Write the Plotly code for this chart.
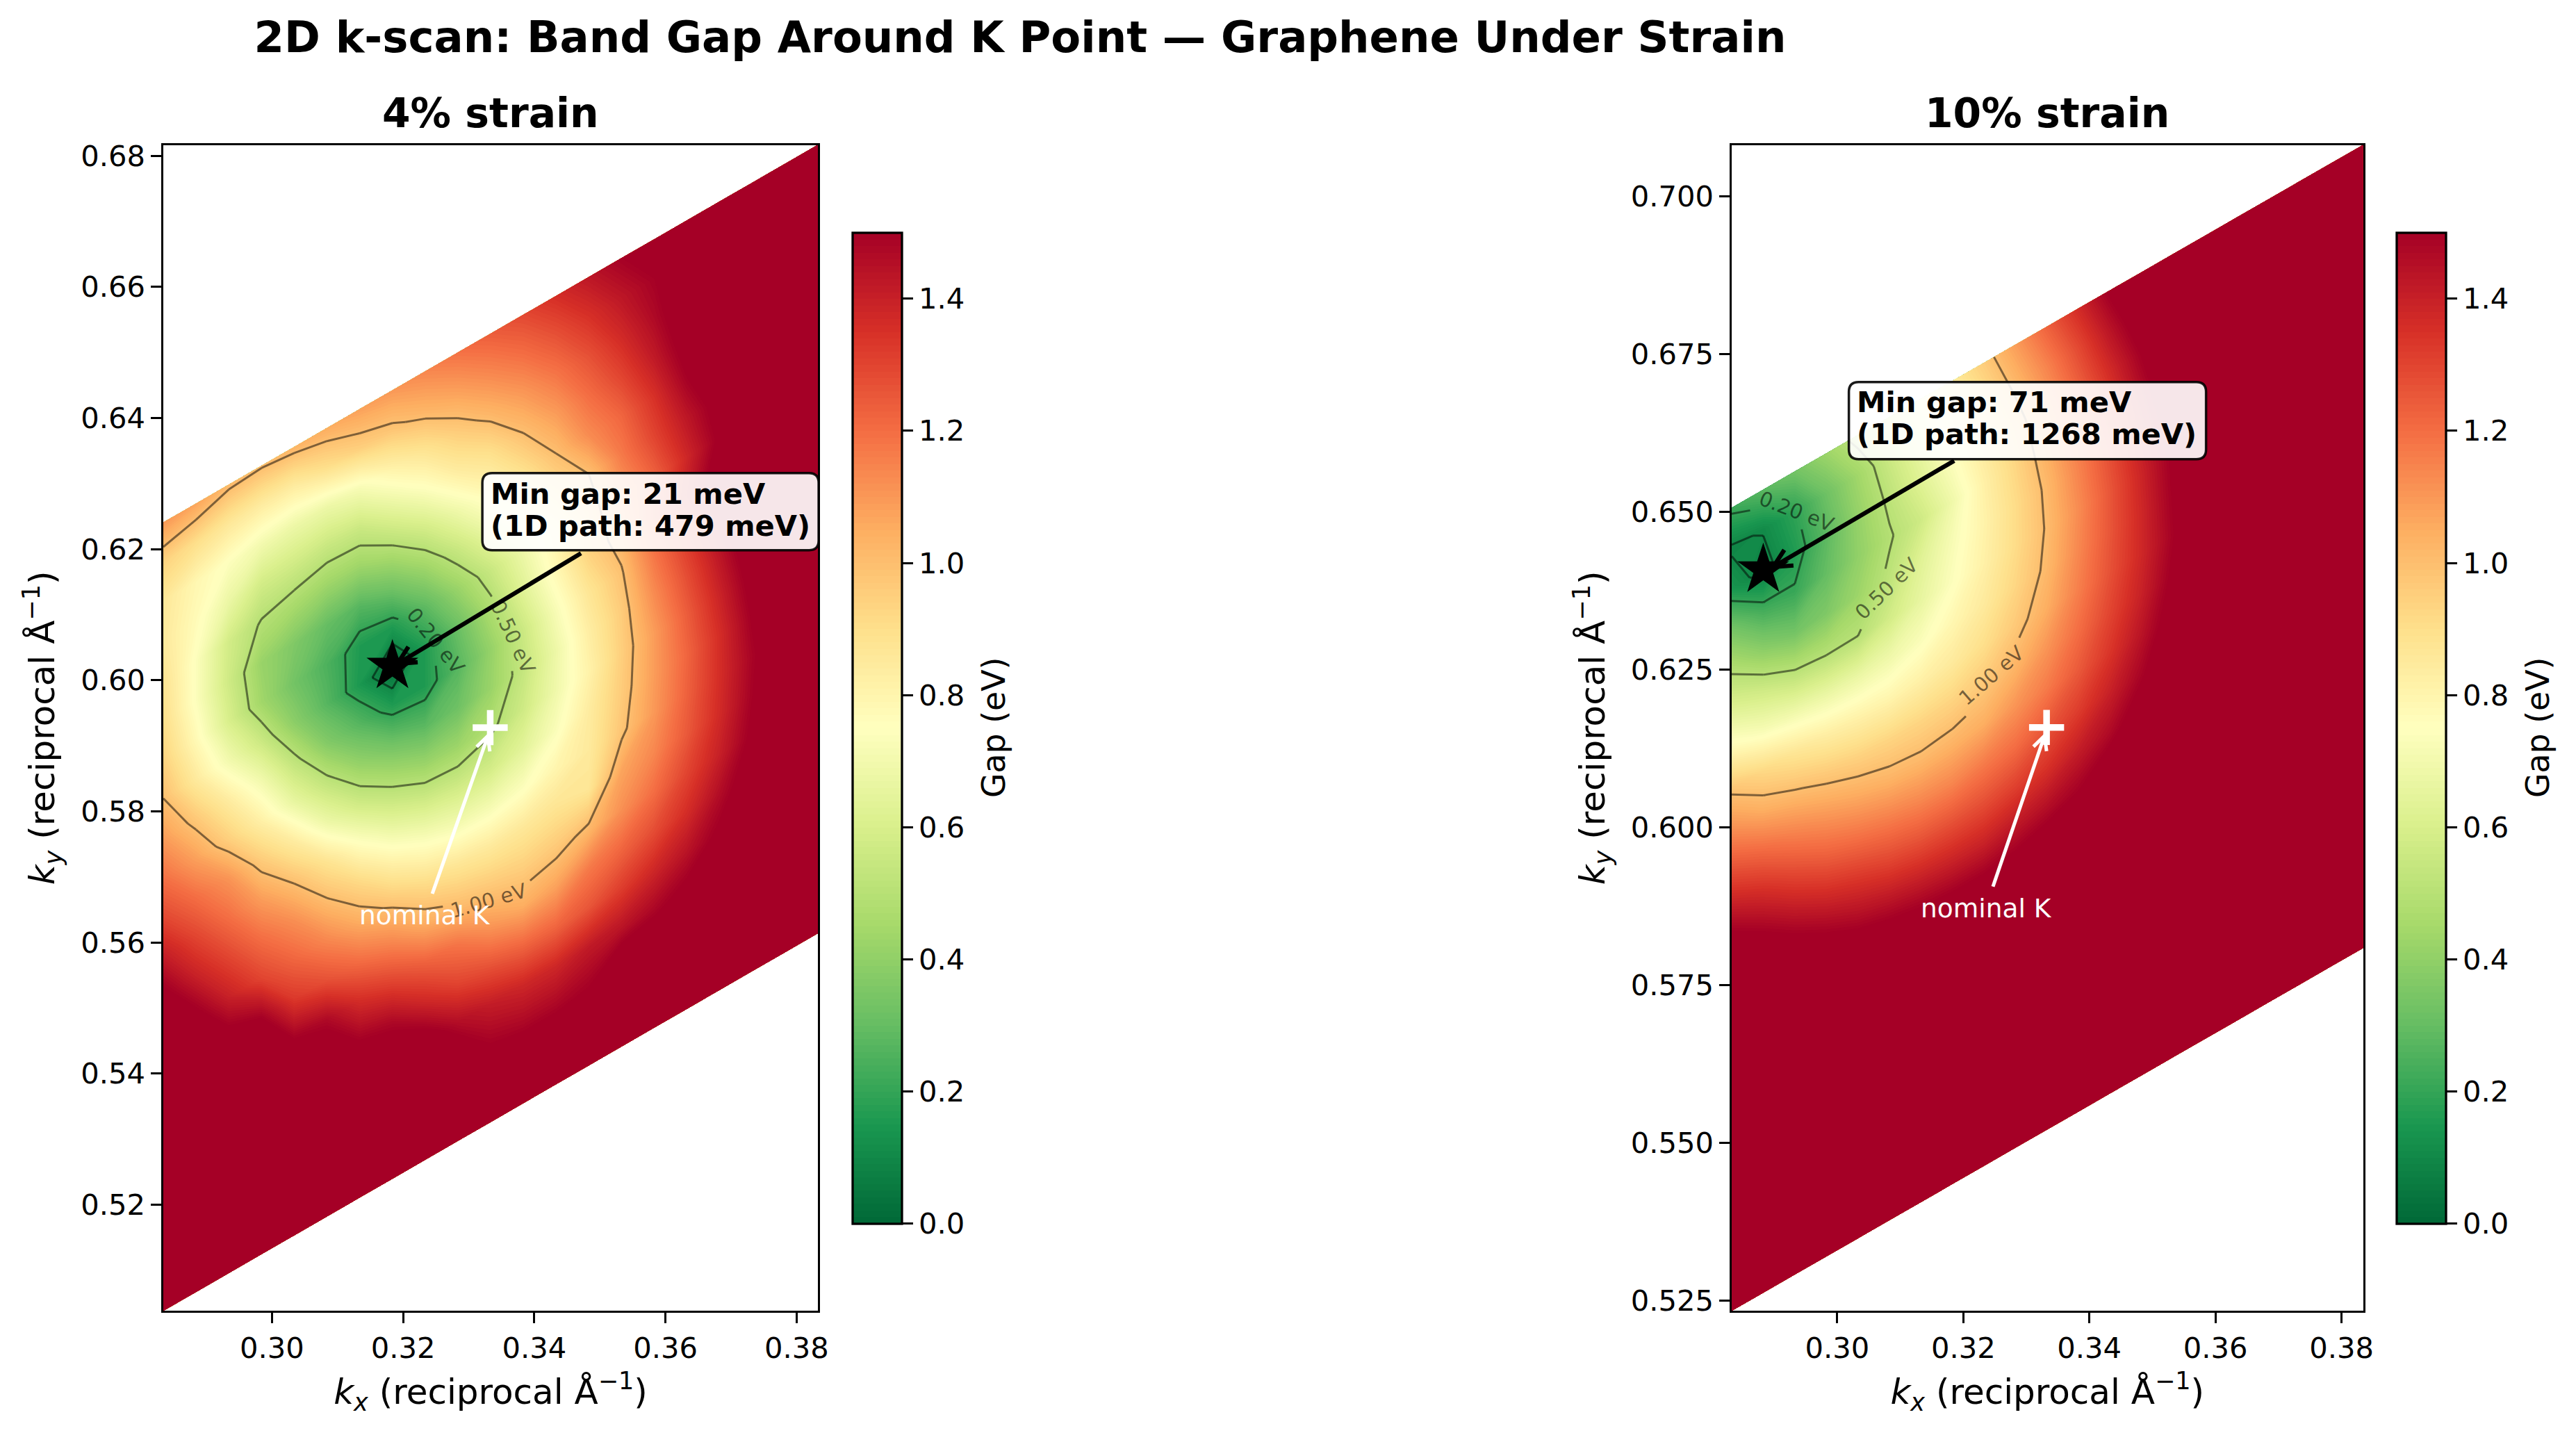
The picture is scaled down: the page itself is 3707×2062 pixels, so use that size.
import math
import numpy as np
import plotly.graph_objects as go

FONT = "DejaVu Sans"
WIDTH, HEIGHT = 3707, 2062

# Band gap (eV) on the 21 x 21 sheared k-mesh, one list per row of the mesh.
GAP_4 = [
    [1.6]*21,
    [1.6]*21,
    [1.6]*10 + [1.5,1.48,1.48,1.5] + [1.6]*7,
    [1.6]*8 + [1.56,1.46,1.41,1.38,1.38,1.42,1.44,1.48,1.53,1.6,1.6,1.6,1.6],
    [1.6,1.6,1.6,1.6,1.6,1.6,1.50,1.47,1.38,1.30,1.26,1.22,1.22,1.26,1.32,1.38,1.44,1.52,1.6,1.6,1.6],
    [1.6,1.6,1.6,1.56,1.50,1.47,1.36,1.30,1.23,1.18,1.10,1.05,1.08,1.17,1.22,1.28,1.36,1.46,1.56,1.6,1.6],
    [1.6,1.6,1.54,1.50,1.33,1.27,1.20,1.14,1.05,1.00,.97,.95,.97,1.02,1.12,1.20,1.30,1.40,1.52,1.6,1.6],
    [1.6,1.53,1.40,1.30,1.22,1.14,1.05,.98,.91,.87,.85,.86,.88,.87,1.07,1.14,1.25,1.37,1.50,1.6,1.6],
    [1.53,1.40,1.30,1.20,1.12,1.01,.92,.82,.75,.71,.71,.74,.80,.85,.98,1.10,1.23,1.36,1.49,1.6,1.6],
    [1.41,1.30,1.20,1.09,.99,.88,.75,.65,.59,.57,.58,.64,.73,.84,.96,1.09,1.22,1.36,1.51,1.6,1.6],
    [1.29,1.20,1.11,.96,.84,.68,.57,.49,.43,.43,.48,.57,.69,.81,.95,1.09,1.24,1.39,1.54,1.6,1.6],
    [1.19,1.08,.95,.82,.66,.53,.41,.33,.28,.32,.42,.54,.68,.83,.96,1.13,1.28,1.43,1.58,1.6,1.6],
    [1.09,.97,.84,.70,.53,.37,.27,.16,.16,.27,.41,.56,.72,.87,.99,1.18,1.33,1.49,1.6,1.6,1.6],
    [1.00,.85,.70,.56,.39,.27,.15,.021,.16,.31,.47,.63,.78,.94,1.04,1.25,1.41,1.57,1.6,1.6,1.6],
    [.94,.78,.60,.44,.33,.25,.16,.16,.28,.42,.55,.68,.81,.95,1.10,1.23,1.38,1.52,1.6,1.6,1.6],
    [.90,.74,.57,.42,.36,.30,.27,.33,.43,.55,.67,.79,.91,1.00,1.17,1.30,1.43,1.55,1.6,1.6,1.6],
    [.88,.74,.58,.49,.46,.43,.43,.49,.58,.69,.79,.89,1.00,1.13,1.22,1.35,1.50,1.6,1.6,1.6,1.6],
    [.85,.77,.67,.58,.57,.55,.56,.65,.74,.84,.90,1.00,1.09,1.20,1.30,1.42,1.55,1.6,1.6,1.6,1.6],
    [.86,.79,.74,.70,.68,.68,.72,.81,.88,.96,1.03,1.10,1.18,1.27,1.37,1.47,1.58,1.6,1.6,1.6,1.6],
    [.94,.90,.86,.84,.84,.90,.95,.98,1.03,1.08,1.14,1.20,1.27,1.35,1.43,1.50,1.56,1.6,1.6,1.6,1.6],
    [1.10,1.07,1.02,1.01,1.03,1.05,1.08,1.10,1.14,1.19,1.24,1.29,1.36,1.43,1.50,1.56,1.6,1.6,1.6,1.6,1.6],
]

GAP_10 = [
    [1.6]*21,
    [1.6]*21,
    [1.6]*21,
    [1.6]*21,
    [1.6]*21,
    [1.6]*21,
    [1.6]*21,
    [1.6,1.6,1.6,1.6,1.6,1.57,1.55,1.54,1.54,1.55,1.58] + [1.6]*10,
    [1.6,1.6,1.57,1.51,1.46,1.43,1.41,1.40,1.40,1.43,1.46,1.50,1.57] + [1.6]*8,
    [1.57,1.50,1.43,1.37,1.33,1.29,1.27,1.27,1.28,1.31,1.35,1.41,1.47,1.56] + [1.6]*7,
    [1.42,1.36,1.29,1.23,1.19,1.16,1.14,1.14,1.17,1.20,1.26,1.32,1.40,1.49] + [1.6]*7,
    [1.27,1.21,1.15,1.10,1.06,1.03,1.02,1.03,1.05,1.11,1.17,1.25,1.34,1.44,1.55] + [1.6]*6,
    [1.12,1.05,1.01,.97,.94,.93,.93,.94,.97,1.03,1.11,1.20,1.30,1.40,1.52] + [1.6]*6,
    [.98,.92,.87,.83,.81,.80,.82,.85,.90,.97,1.05,1.16,1.27,1.38,1.50] + [1.6]*6,
    [.78,.72,.69,.67,.67,.69,.73,.79,.85,.93,1.02,1.14,1.26,1.38,1.51] + [1.6]*6,
    [.62,.57,.51,.495,.50,.58,.66,.74,.82,.91,1.01,1.13,1.26,1.39,1.52] + [1.6]*6,
    [.48,.39,.33,.36,.43,.52,.63,.72,.81,.91,1.02,1.15,1.28,1.42,1.55] + [1.6]*6,
    [.33,.23,.21,.30,.40,.49,.57,.69,.82,.93,1.05,1.18,1.32,1.46] + [1.6]*7,
    [.138,.071,.16,.28,.41,.52,.63,.74,.85,.96,1.09,1.23,1.37,1.51] + [1.6]*7,
    [.09,.105,.19,.32,.44,.56,.67,.79,.90,1.02,1.15,1.29,1.44,1.58] + [1.6]*7,
    [.22,.28,.33,.43,.53,.62,.74,.85,.96,1.09,1.23,1.37,1.52,1.6] + [1.6]*7,
]

CMAP = ["#006837", "#1a9850", "#66bd63", "#a6d96a", "#d9ef8b", "#ffffbf",
        "#fee08b", "#fdae61", "#f46d43", "#d73027", "#a50026"]
COLORSCALE = [[i / 10, c] for i, c in enumerate(CMAP)]
LEVELS = [0.1, 0.2, 0.5, 1.0]
CBAR_TICKS = [0.0, 0.2, 0.4, 0.6, 0.8, 1.0, 1.2, 1.4]
CBAR_LABELS = ["0.0", "0.2", "0.4", "0.6", "0.8", "1.0", "1.2", "1.4"]
XTICKS = [0.30, 0.32, 0.34, 0.36, 0.38]
XLABELS = ["0.30", "0.32", "0.34", "0.36", "0.38"]

PANELS = [
    dict(
        title="4% strain", gap=GAP_4, meV=21, path_meV=479,
        px=(235, 1177), py=(208.5, 1886.3), cbar_x=1227, cbar_title_x=1430,
        xrange=(0.28344, 0.38324), yrange=(0.50378, 0.68166),
        mesh=dict(x0=0.28344, dx=0.00499, y0=0.50378, dy=0.006015, shear=0.00288),
        yticks=[0.52, 0.54, 0.56, 0.58, 0.60, 0.62, 0.64, 0.66, 0.68],
        ylabels=["0.52", "0.54", "0.56", "0.58", "0.60", "0.62", "0.64", "0.66", "0.68"],
        nominal=(0.33328, 0.59277),
        nominal_text=(0.32335, 0.56413),
        nominal_arrow=((0.32445, 0.56742), (0.33292, 0.59148)),
        min_arrow=((0.34712, 0.61936), (0.31915, 0.60250)),
        box=(0.35772, 0.62572, 484, 111),
        box_text=(0.33310, 0.62848, 0.62360),
        labels=[("0.20 eV", 0.32494, 0.60604, 51, 0.2), ("0.50 eV", 0.33677, 0.60657, 65, 0.5),
                ("1.00 eV", 0.33303, 0.56635, -16, 1.0)],
    ),
    dict(
        title="10% strain", gap=GAP_10, meV=71, path_meV=1268,
        px=(2492, 3400.5), py=(208.5, 1886.3), cbar_x=3449, cbar_title_x=3652,
        xrange=(0.28327, 0.3834), yrange=(0.52339, 0.70818),
        mesh=dict(x0=0.28327, dx=0.005007, y0=0.52339, dy=0.006365, shear=0.002875),
        yticks=[0.525, 0.55, 0.575, 0.60, 0.625, 0.65, 0.675, 0.70],
        ylabels=["0.525", "0.550", "0.575", "0.600", "0.625", "0.650", "0.675", "0.700"],
        nominal=(0.33321, 0.61586),
        nominal_text=(0.32363, 0.58716),
        nominal_arrow=((0.32471, 0.59064), (0.33288, 0.61454)),
        min_arrow=((0.31856, 0.65813), (0.28987, 0.64131)),
        box=(0.33018, 0.66447, 514, 111),
        box_text=(0.30290, 0.66738, 0.66231),
        labels=[("0.20 eV", 0.29354, 0.65006, 21, 0.2), ("0.50 eV", 0.30787, 0.63783, -44, 0.5),
                ("1.00 eV", 0.32451, 0.62404, -41, 1.0)],
    ),
]


def iso_path(gx, gy, z, level, gaps, sx, sy):
    """Marching squares over the mesh; pieces under a label box are dropped."""
    xs, ys = [], []
    ny, nx = z.shape
    for j in range(ny - 1):
        for i in range(nx - 1):
            c = [(j, i), (j, i + 1), (j + 1, i + 1), (j + 1, i)]
            pts = []
            for a, b in zip(c, c[1:] + c[:1]):
                za, zb = z[a], z[b]
                if (za < level) != (zb < level):
                    t = (level - za) / (zb - za)
                    pts.append((gx[a] + t * (gx[b] - gx[a]), gy[a] + t * (gy[b] - gy[a])))
            pairs = []
            if len(pts) == 2:
                pairs = [(pts[0], pts[1])]
            elif len(pts) == 4:
                centre = np.mean([z[p] for p in c])
                below = (z[c[0]] < level) == (centre < level)
                pairs = [(pts[0], pts[1]), (pts[2], pts[3])] if not below else [(pts[3], pts[0]), (pts[1], pts[2])]
            for p, q in pairs:
                run = False
                for k in range(24):
                    t0, t1 = k / 24, (k + 1) / 24
                    mx = p[0] + (t0 + t1) / 2 * (q[0] - p[0])
                    my = p[1] + (t0 + t1) / 2 * (q[1] - p[1])
                    hidden = False
                    for gapx, gapy, ang, half_len in gaps:
                        ex, ey = (mx - gapx) * sx, -(my - gapy) * sy
                        ca, sa = math.cos(math.radians(ang)), math.sin(math.radians(ang))
                        if abs(ex * ca + ey * sa) < half_len and abs(-ex * sa + ey * ca) < 22:
                            hidden = True
                    if hidden:
                        if run:
                            xs.append(None)
                            ys.append(None)
                        run = False
                        continue
                    if not run:
                        xs.append(p[0] + t0 * (q[0] - p[0]))
                        ys.append(p[1] + t0 * (q[1] - p[1]))
                    xs.append(p[0] + t1 * (q[0] - p[0]))
                    ys.append(p[1] + t1 * (q[1] - p[1]))
                    run = True
                xs.append(None)
                ys.append(None)
    return xs, ys


fig = go.Figure()
shapes, annotations = [], []


def arrow_shapes(start, tip, sx, sy, color, width, head_len, head_half, xref, yref):
    shapes.append(dict(type="line", xref=xref, yref=yref, x0=start[0], y0=start[1], x1=tip[0], y1=tip[1],
                       line=dict(color=color, width=width), layer="above"))
    ux, uy = (tip[0] - start[0]) * sx, (tip[1] - start[1]) * sy
    norm = math.hypot(ux, uy)
    ux, uy = ux / norm, uy / norm
    a = (-head_len * ux - head_half * uy, -head_len * uy + head_half * ux)
    b = (-head_len * ux + head_half * uy, -head_len * uy - head_half * ux)
    shapes.append(dict(type="path", xref=xref, yref=yref, xsizemode="pixel", ysizemode="pixel",
                       xanchor=tip[0], yanchor=tip[1],
                       path=f"M {a[0]:.1f},{a[1]:.1f} L 0,0 L {b[0]:.1f},{b[1]:.1f}",
                       line=dict(color=color, width=width), layer="above"))


layout_axes = {}
for n, p in enumerate(PANELS, start=1):
    xname, yname = ("x", "y") if n == 1 else (f"x{n}", f"y{n}")
    xkey, ykey = ("xaxis", "yaxis") if n == 1 else (f"xaxis{n}", f"yaxis{n}")
    sx = (p["px"][1] - p["px"][0]) / (p["xrange"][1] - p["xrange"][0])
    sy = (p["py"][1] - p["py"][0]) / (p["yrange"][1] - p["yrange"][0])

    z = np.array(p["gap"], dtype=float)
    m = p["mesh"]
    ii, jj = np.meshgrid(np.arange(21), np.arange(21))
    gx = m["x0"] + ii * m["dx"]
    gy = m["y0"] + ii * m["shear"] + jj * m["dy"]
    carpet_id = f"mesh{n}"

    fig.add_trace(go.Carpet(
        carpet=carpet_id, a=list(range(21)), b=list(range(21)),
        x=gx.tolist(), y=gy.tolist(), xaxis=xname, yaxis=yname,
        aaxis=dict(showgrid=False, showticklabels="none", showline=False, startline=False, endline=False,
                   smoothing=0, minorgridcount=0, type="linear", tickmode="array", tickvals=[]),
        baxis=dict(showgrid=False, showticklabels="none", showline=False, startline=False, endline=False,
                   smoothing=0, minorgridcount=0, type="linear", tickmode="array", tickvals=[]),
    ))
    fig.add_trace(go.Contourcarpet(
        carpet=carpet_id, a=list(range(21)), b=list(range(21)), z=z.tolist(),
        xaxis=xname, yaxis=yname,
        autocontour=False, contours=dict(start=0, end=1.5, size=0.01, coloring="fill", showlines=False),
        line=dict(width=0, smoothing=0), colorscale=COLORSCALE, zmin=0, zmax=1.5, zauto=False,
        colorbar=dict(
            x=p["cbar_x"] / WIDTH, xanchor="left", xpad=0, ypad=0,
            y=1 - 1760.7 / HEIGHT, yanchor="bottom", len=(1760.7 - 334.5) / HEIGHT, lenmode="fraction",
            thickness=71, thicknessmode="pixels", outlinewidth=3.3, outlinecolor="black",
            ticks="outside", ticklen=14.6, tickwidth=3.3, tickcolor="black",
            tickvals=CBAR_TICKS, ticktext=CBAR_LABELS, tickfont=dict(family=FONT, size=41.67, color="black"),
        ),
    ))
    annotations.append(dict(text="Gap (eV)", x=p["cbar_title_x"] / WIDTH, y=1 - 1047 / HEIGHT, xref="paper", yref="paper",
                            xanchor="center", yanchor="middle", showarrow=False, textangle=-90,
                            font=dict(family=FONT, size=45.8, color="black")))

    # Iso-gap lines, with openings where their labels sit.
    for level in LEVELS:
        gaps = [(lx, ly, ang, 66) for _, lx, ly, ang, lv in p["labels"] if lv == level]
        lx_, ly_ = iso_path(gx, gy, z, level, gaps, sx, sy)
        fig.add_trace(go.Scatter(x=lx_, y=ly_, mode="lines", xaxis=xname, yaxis=yname, showlegend=False,
                                 hoverinfo="skip", line=dict(color="rgba(0,0,0,0.5)", width=3)))
    for text, lx, ly, ang, _ in p["labels"]:
        annotations.append(dict(text=text, x=lx, y=ly, xref=xname, yref=yname, showarrow=False, textangle=ang,
                                font=dict(family=FONT, size=29.17, color="rgba(0,0,0,0.55)")))

    # Location of the smallest gap on the mesh.
    jmin, imin = np.unravel_index(np.argmin(z), z.shape)
    fig.add_trace(go.Scatter(x=[gx[jmin, imin]], y=[gy[jmin, imin]], mode="markers", xaxis=xname, yaxis=yname,
                             showlegend=False, marker=dict(symbol="star", size=56, color="black",
                                                           line=dict(width=0))))
    fig.add_trace(go.Scatter(x=[p["nominal"][0]], y=[p["nominal"][1]], mode="markers", xaxis=xname, yaxis=yname,
                             showlegend=False, marker=dict(symbol="cross-thin", size=36,
                                                           line=dict(color="white", width=9.5))))

    arrow_shapes(*p["nominal_arrow"], sx, sy, "white", 5, 20, 10, xname, yname)
    annotations.append(dict(text="nominal K", x=p["nominal_text"][0], y=p["nominal_text"][1], xref=xname, yref=yname,
                            showarrow=False, font=dict(family=FONT, size=37.5, color="white")))
    arrow_shapes(*p["min_arrow"], sx, sy, "black", 6.25, 26, 13, xname, yname)

    cx, cy, bw, bh = p["box"]
    w, h, r = bw / 2, bh / 2, 14
    path = (f"M {-w + r},{-h} L {w - r},{-h} Q {w},{-h} {w},{-h + r} L {w},{h - r} Q {w},{h} {w - r},{h} "
            f"L {-w + r},{h} Q {-w},{h} {-w},{h - r} L {-w},{-h + r} Q {-w},{-h} {-w + r},{-h} Z")
    shapes.append(dict(type="path", xref=xname, yref=yname, xsizemode="pixel", ysizemode="pixel", xanchor=cx, yanchor=cy,
                       path=path, fillcolor="rgba(255,255,255,0.9)", line=dict(color="rgba(0,0,0,0.9)", width=3.5),
                       layer="above"))
    tx, ty1, ty2 = p["box_text"]
    for line, ty in ((f"Min gap: {p['meV']} meV", ty1), (f"(1D path: {p['path_meV']} meV)", ty2)):
        annotations.append(dict(text=f"<b>{line}</b>", x=tx, y=ty, xref=xname, yref=yname, xanchor="left",
                                showarrow=False, font=dict(family=FONT, size=41.67, color="black")))

    annotations.append(dict(text=f"<b>{p['title']}</b>", x=(p["px"][0] + p["px"][1]) / 2 / WIDTH, y=1 - 163 / HEIGHT,
                            xref="paper", yref="paper", xanchor="center", yanchor="middle", showarrow=False,
                            font=dict(family=FONT, size=58.33, color="black")))

    common = dict(showgrid=False, zeroline=False, showline=True, mirror=True, linecolor="black", linewidth=3.3,
                  ticks="outside", ticklen=14.6, tickwidth=3.3, tickcolor="black",
                  tickfont=dict(family=FONT, size=41.67, color="black"))
    layout_axes[xkey] = dict(
        common, domain=[p["px"][0] / WIDTH, p["px"][1] / WIDTH], range=list(p["xrange"]), anchor=yname,
        tickvals=XTICKS, ticktext=XLABELS,
        title=dict(text="<i>k<sub>x</sub></i> (reciprocal Å<sup>−1</sup>)", standoff=22,
                   font=dict(family=FONT, size=50, color="black")))
    layout_axes[ykey] = dict(
        common, domain=[1 - p["py"][1] / HEIGHT, 1 - p["py"][0] / HEIGHT], range=list(p["yrange"]), anchor=xname,
        tickvals=p["yticks"], ticktext=p["ylabels"],
        title=dict(text="<i>k<sub>y</sub></i> (reciprocal Å<sup>−1</sup>)", standoff=22,
                   font=dict(family=FONT, size=50, color="black")))

fig.update_layout(
    width=WIDTH, height=HEIGHT, autosize=False, margin=dict(l=0, r=0, t=0, b=0, autoexpand=False),
    paper_bgcolor="white", plot_bgcolor="white", showlegend=False,
    font=dict(family=FONT, color="black"),
    title=dict(text="<b>2D k-scan: Band Gap Around K Point — Graphene Under Strain</b>", x=1468 / WIDTH, xanchor="center",
               xref="paper", y=1 - 53 / HEIGHT, yanchor="middle", yref="paper",
               font=dict(family=FONT, size=62.5, color="black")),
    shapes=shapes, annotations=annotations, **layout_axes,
)

fig.write_html("out.html")
